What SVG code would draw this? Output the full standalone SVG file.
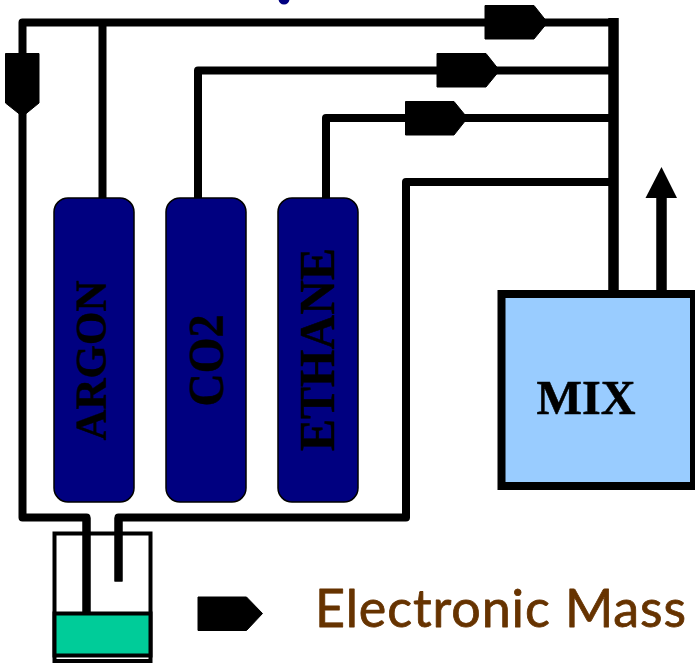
<svg xmlns="http://www.w3.org/2000/svg" width="695" height="665" viewBox="0 0 695 665">
<style>
.pipe{fill:none;stroke:#000;stroke-width:8;stroke-linejoin:round}
.cyl{fill:#000080;stroke:#000;stroke-width:1.5}
.lab{font-family:"Liberation Serif","Times New Roman",serif;font-weight:bold;fill:#000;stroke:#000;stroke-width:.5}
.valve{fill:#000;stroke:#000;stroke-width:1;stroke-linejoin:round}
</style>
<rect width="695" height="665" fill="#fff"/>
<ellipse id="top-dot" cx="284" cy="-1" rx="5.500" ry="5.500" fill="#000080"/>
<g id="connectors">
<path class="pipe" d="M613 22.500H22.500V517.500H86.500V612"/>
<path class="pipe" d="M102.500 22.500V198"/>
<path class="pipe" d="M198 198V70.500H613"/>
<path class="pipe" d="M326 198V118H613"/>
<path class="pipe" d="M613 182H406V517.500H118.500V581.500"/>
<path fill="none" stroke="#000" stroke-width="10.500" d="M613.500 18V292"/>
<path fill="none" stroke="#000" stroke-width="10.500" d="M661.500 292V196"/>
<polygon points="661.500,167 677,198 645.500,198" fill="#000"/>
</g>
<g id="valve-top"><polygon class="valve" points="485,5.500 534,5.500 547.500,22.500 534,39 485,39"/></g>
<g id="valve-co2"><polygon class="valve" points="437,53.500 486,53.500 499.500,70.500 486,87 437,87"/></g>
<g id="valve-ethane"><polygon class="valve" points="405.500,101.500 454,101.500 467.500,118 454,135 405.500,135"/></g>
<g id="valve-left"><polygon class="valve" points="5.500,53.500 39,53.500 39,103 22.500,116.500 5.500,103"/></g>
<g id="cyl-argon"><rect class="cyl" x="54" y="198" width="80" height="304" rx="14"/><text class="lab" font-size="45" textLength="160" lengthAdjust="spacingAndGlyphs" transform="translate(106 440.500) rotate(-90)">ARGON</text></g>
<g id="cyl-co2"><rect class="cyl" x="166" y="198" width="80" height="304" rx="14"/><text class="lab" font-size="50" textLength="92" lengthAdjust="spacingAndGlyphs" transform="translate(223 406.500) rotate(-90)">CO2</text></g>
<g id="cyl-ethane"><rect class="cyl" x="278" y="198" width="80" height="304" rx="14"/><text class="lab" font-size="50" textLength="203" lengthAdjust="spacingAndGlyphs" transform="translate(334 451) rotate(-90)">ETHANE</text></g>
<g id="mix"><rect x="501.500" y="294" width="192.500" height="192" fill="#99ccff" stroke="#000" stroke-width="8"/><text class="lab" font-size="49" textLength="99" lengthAdjust="spacingAndGlyphs" x="536.500" y="414">MIX</text></g>
<g id="vial">
<rect x="54.500" y="533.500" width="96" height="127.500" fill="none" stroke="#000" stroke-width="4"/>
<rect x="54.500" y="613.500" width="96" height="42" fill="#00cc99" stroke="#000" stroke-width="4"/>
<path fill="none" stroke="#000" stroke-width="8" d="M86.500 517.500V612M118.500 517.500V581.500"/>
</g>
<g id="legend"><polygon class="valve" points="198,597 246.500,597 262.500,613.500 246.500,630.500 198,630.500"/><text x="315" y="627" font-family="Lato,'Open Sans',sans-serif" font-size="52" letter-spacing=".9" fill="#663300" stroke="#663300" stroke-width=".8" stroke-linejoin="round">Electronic Mass</text></g>
</svg>
